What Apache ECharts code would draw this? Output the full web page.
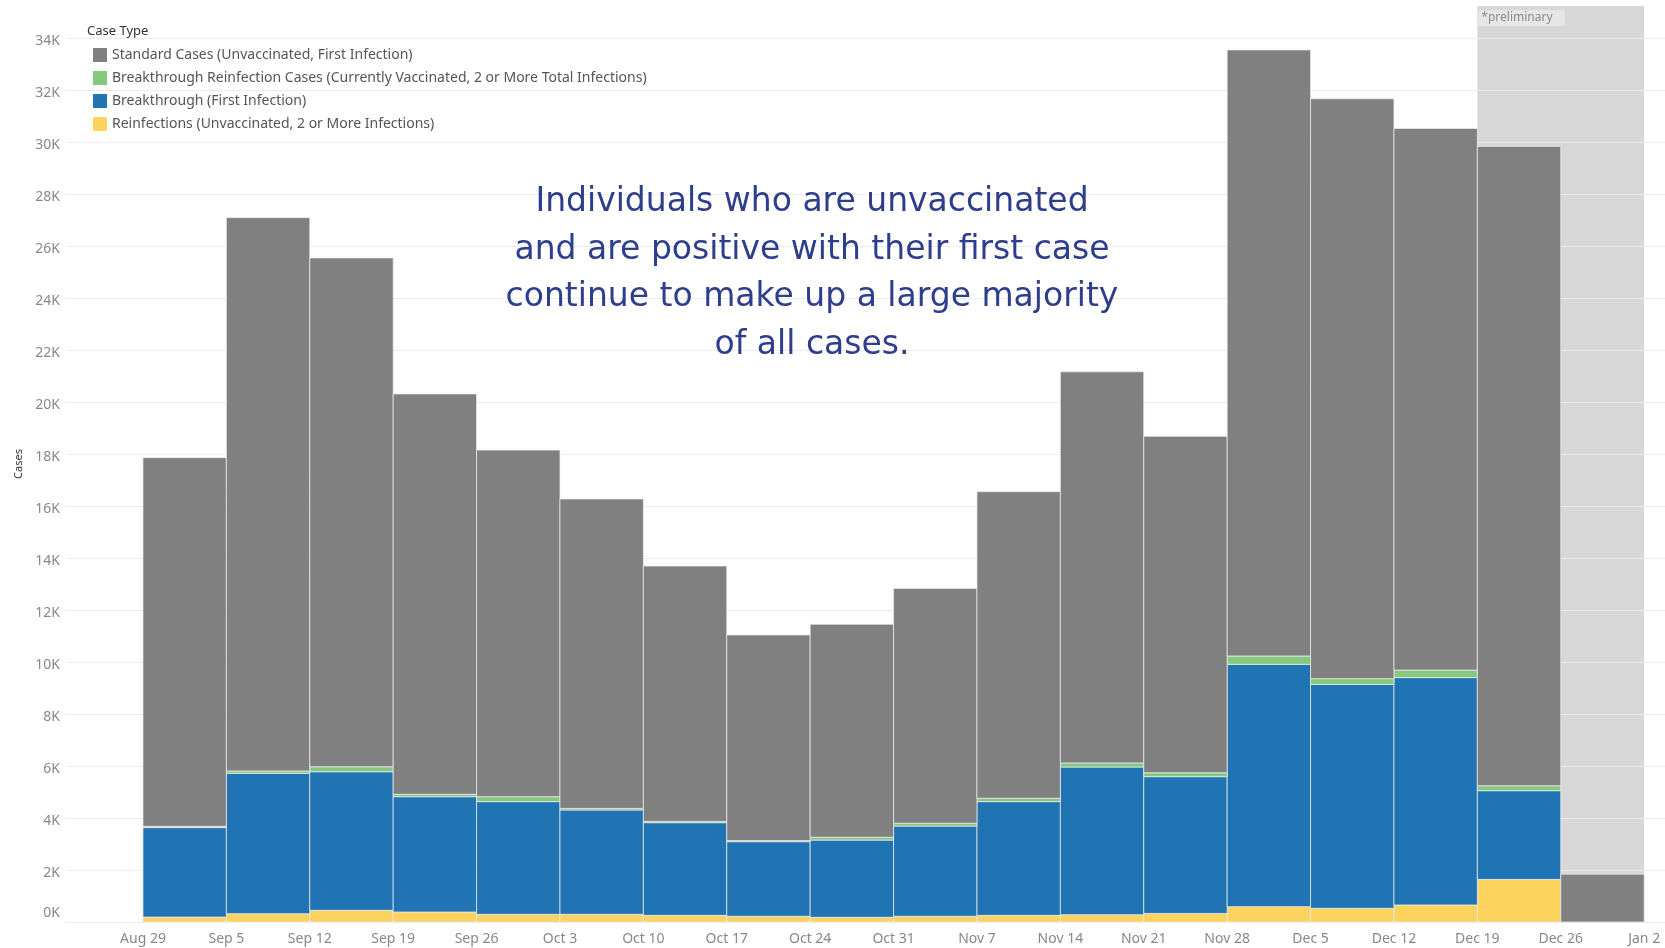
<!DOCTYPE html>
<html>
<head>
<meta charset="utf-8">
<script src="https://cdn.jsdelivr.net/npm/echarts@6/dist/echarts.min.js"></script>
<style>
html,body{margin:0;padding:0;background:#fff;}
#chart{width:1665px;height:948px;}
</style>
</head>
<body>
<div id="chart"></div>
<script>
// ---- data (weekly case counts) ----
const weekLabels = ['Aug 29','Sep 5','Sep 12','Sep 19','Sep 26','Oct 3','Oct 10','Oct 17','Oct 24','Oct 31','Nov 7','Nov 14','Nov 21','Nov 28','Dec 5','Dec 12','Dec 19','Dec 26','Jan 2'];
const reinfections            = [190, 320, 450, 385, 295, 295, 255, 220, 180, 220, 255, 280, 330, 590, 525, 655, 1640, 0];
const breakthrough            = [3440, 5400, 5330, 4435, 4335, 4015, 3565, 2870, 2970, 3470, 4375, 5680, 5260, 9320, 8615, 8745, 3410, 0];
const breakthroughReinfection = [50, 90, 190, 90, 190, 60, 50, 40, 110, 110, 130, 160, 150, 320, 220, 290, 190, 0];
const standardCases           = [14180, 21280, 19570, 15400, 13330, 11900, 9820, 7910, 8190, 9030, 11790, 15040, 12940, 23310, 22300, 20830, 24590, 1840];
const preliminaryWeeks = ['Dec 19', 'Dec 26'];
const yMaxValue = 35230;
const yInterval = 2000;

const seriesNames = {
  standard: 'Standard Cases (Unvaccinated, First Infection)',
  btReinf: 'Breakthrough Reinfection Cases (Currently Vaccinated, 2 or More Total Infections)',
  bt: 'Breakthrough (First Infection)',
  reinf: 'Reinfections (Unvaccinated, 2 or More Infections)'
};
const FONT = '"Noto Sans", "DejaVu Sans", sans-serif';

// stacking order bottom -> top
const stackDefs = [
  { name: seriesNames.reinf,    values: reinfections,            color: '#fdd35f' },
  { name: seriesNames.bt,       values: breakthrough,            color: '#2074b4' },
  { name: seriesNames.btReinf,  values: breakthroughReinfection, color: '#85c97e' },
  { name: seriesNames.standard, values: standardCases,           color: '#808080' }
];

const bases = new Array(standardCases.length).fill(0);
const barSeries = stackDefs.map(def => {
  const data = def.values.map((v, i) => {
    const item = [i, bases[i], v];
    bases[i] += v;
    return item;
  });
  return {
    type: 'custom',
    name: def.name,
    z: 2,
    itemStyle: { color: def.color },
    encode: { x: 0, y: 2 },
    data: data,
    renderItem: function (params, api) {
      const i = api.value(0), base = api.value(1), v = api.value(2);
      if (!v) return null;
      const p0 = api.coord([i, base]);
      const p1 = api.coord([i + 1, base + v]);
      return {
        type: 'rect',
        shape: { x: p0[0], y: p1[1], width: p1[0] - p0[0], height: p0[1] - p1[1] },
        style: { fill: api.visual('color'), stroke: 'rgba(235,235,235,0.75)', lineWidth: 1 }
      };
    }
  };
});

const prelimStart = weekLabels.indexOf(preliminaryWeeks[0]);
const prelimEnd = weekLabels.indexOf(preliminaryWeeks[preliminaryWeeks.length - 1]) + 1;

const prelimSeries = {
  type: 'custom',
  name: 'preliminary',
  z: 0,
  silent: true,
  encode: { x: [0, 1] },
  data: [[prelimStart, prelimEnd]],
  renderItem: function (params, api) {
    const a = api.coord([api.value(0), 0]);
    const b = api.coord([api.value(1), 0]);
    const cs = params.coordSys;
    return {
      type: 'group',
      children: [
        { type: 'rect', shape: { x: a[0], y: cs.y, width: b[0] - a[0], height: cs.height }, style: { fill: '#d7d7d7' } },
        { type: 'text', x: a[0] + 1, y: cs.y + 4,
          style: { text: '*preliminary', fill: '#8a8a8a', font: '12px ' + FONT, backgroundColor: '#e6e6e6', padding: [2, 12, 2, 3] } }
      ]
    };
  }
};

const chart = echarts.init(document.getElementById('chart'), null, { renderer: 'canvas' });
chart.setOption({
  animation: false,
  backgroundColor: '#ffffff',
  textStyle: { fontFamily: FONT },
  title: {
    text: 'Case Type', left: 87, top: 25, padding: 0,
    textStyle: { fontSize: 13, fontWeight: 'normal', color: '#333', fontFamily: FONT }
  },
  legend: {
    data: [seriesNames.standard, seriesNames.btReinf, seriesNames.bt, seriesNames.reinf],
    orient: 'vertical', left: 93, top: 47, padding: 0,
    itemWidth: 14, itemHeight: 14, itemGap: 7, icon: 'rect', selectedMode: false,
    textStyle: { fontSize: 14, color: '#555', fontFamily: FONT, lineHeight: 16 }
  },
  grid: { left: 66, right: 0, top: 6, bottom: 26, containLabel: false },
  xAxis: {
    type: 'value', min: -0.923, max: 18.25,
    axisLine: { show: false }, axisTick: { show: false }, splitLine: { show: false },
    axisLabel: {
      customValues: weekLabels.map((_, i) => i),
      formatter: v => weekLabels[Math.round(v)],
      color: '#888', fontSize: 14, margin: 10, fontFamily: FONT
    }
  },
  yAxis: {
    type: 'value', min: 0, max: yMaxValue, interval: yInterval, z: 1,
    name: 'Cases', nameLocation: 'middle', nameGap: 42, nameRotate: 90,
    nameTextStyle: { fontSize: 11, color: '#333', fontFamily: FONT },
    axisLine: { show: false }, axisTick: { show: false },
    axisLabel: {
      showMaxLabel: false, margin: 6, color: '#888', fontSize: 14, fontFamily: FONT,
      formatter: v => (v === 0 ? '{z|0K}' : '{a|' + (v / 1000) + 'K}'),
      rich: {
        a: { color: '#888', fontSize: 14, fontFamily: FONT, padding: [7, 0, 0, 0] },
        z: { color: '#888', fontSize: 14, fontFamily: FONT, padding: [0, 0, 18, 0] }
      }
    },
    splitLine: { showMaxLine: false, lineStyle: { color: '#ececec', width: 1 } }
  },
  graphic: [{
    type: 'text', x: 812, y: 179, z: 10,
    style: {
      text: 'Individuals who are unvaccinated\nand are positive with their first case\ncontinue to make up a large majority\nof all cases.',
      fill: '#2e3d8c', font: '33px "DejaVu Sans", "Open Sans", sans-serif',
      align: 'center', verticalAlign: 'top', lineHeight: 47.5
    }
  }],
  series: [prelimSeries].concat(barSeries)
});
</script>
</body>
</html>
